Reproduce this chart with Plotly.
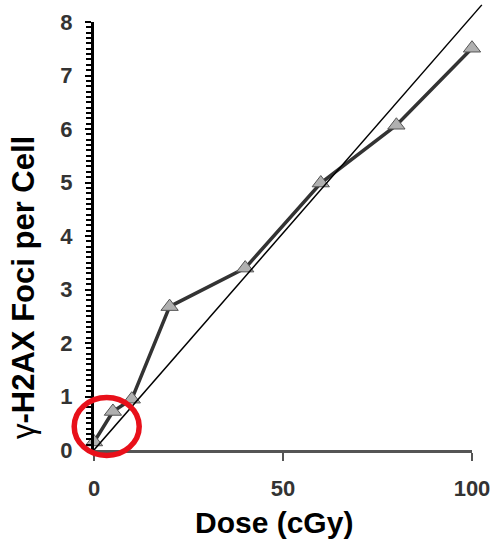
import plotly.graph_objects as go

# ---- data ----
dose = [0, 5, 10, 20, 40, 60, 80, 100]
foci = [0.15, 0.72, 0.95, 2.68, 3.40, 4.99, 6.07, 7.51]
fit_dose = [0, 102.6]
fit_foci = [0, 8.32]
x_tick_vals = [0, 50, 100]
y_tick_vals = [0, 1, 2, 3, 4, 5, 6, 7, 8]
x_title = "Dose (cGy)"
y_title = '<span style="font-weight:normal">γ</span>-H2AX Foci per Cell'

# ---- layout geometry (pixels) ----
W, H = 500, 542
ML, MR, MT, MB = 94, 10, 4, 92
plot_w = W - ML - MR
plot_h = H - MT - MB
main_w, main_h = 378, 428
xd = main_w / plot_w
yd = main_h / plot_h
x_max, y_max = 100, 8

def px_x(p):
    return (p - ML) / plot_w

def px_y(p):
    return (H - MB - p) / plot_h

FONT = "Arial, Liberation Sans, sans-serif"

fig = go.Figure()

fig.add_trace(go.Scatter(
    x=dose, y=foci, mode="lines+markers",
    line=dict(color="#333333", width=3.5),
    marker=dict(symbol="triangle-up", size=15, color="#b0b0b0",
                line=dict(color="#555555", width=1)),
    cliponaxis=False, xaxis="x", yaxis="y", showlegend=False,
))

fig.add_trace(go.Scatter(
    x=fit_dose, y=fit_foci, mode="lines",
    line=dict(color="black", width=1.5),
    xaxis="x2", yaxis="y2", showlegend=False,
))

fig.update_layout(
    width=W, height=H,
    margin=dict(l=ML, r=MR, t=MT, b=MB, pad=0, autoexpand=False),
    paper_bgcolor="white", plot_bgcolor="rgba(0,0,0,0)",
    font=dict(family=FONT, color="#222222"),
    xaxis=dict(
        domain=[0, xd], range=[0, x_max], anchor="y", automargin=False,
        showline=True, linecolor="#555555", linewidth=3,
        ticks="outside", tickvals=x_tick_vals, ticklen=8, tickwidth=2,
        tickcolor="#555555", showgrid=False, zeroline=False,
        tickfont=dict(size=22, weight="bold", color="#333333"),
        ticklabelstandoff=9,
    ),
    yaxis=dict(
        domain=[0, yd], range=[0, y_max], anchor="x", automargin=False,
        showline=True, linecolor="black", linewidth=3,
        ticks="outside", tickvals=y_tick_vals, ticklen=6, tickwidth=2,
        tickcolor="black", showgrid=False, zeroline=False,
        minor=dict(dtick=0.1, ticks="outside", ticklen=5, tickwidth=1.5,
                   tickcolor="black", showgrid=False),
        tickfont=dict(size=22, weight="bold", color="#333333"),
        ticklabelstandoff=8,
    ),
    xaxis2=dict(domain=[0, 1], range=[0, x_max / xd], anchor="y2",
                automargin=False, visible=False, showgrid=False, zeroline=False),
    yaxis2=dict(domain=[0, 1], range=[0, y_max / yd], anchor="x2",
                automargin=False, visible=False, showgrid=False, zeroline=False),
    annotations=[
        dict(text=x_title, xref="paper", yref="paper",
             x=px_x(274), y=px_y(522), showarrow=False,
             xanchor="center", yanchor="middle",
             font=dict(size=30, weight="bold", color="black", family=FONT)),
        dict(text=y_title, xref="paper", yref="paper",
             x=px_x(23), y=px_y(288), showarrow=False, textangle=-90,
             xanchor="center", yanchor="middle",
             font=dict(size=31, weight="bold", color="black", family=FONT)),
    ],
    shapes=[
        dict(type="circle", xref="paper", yref="paper",
             x0=px_x(74.2), x1=px_x(139.2), y0=px_y(455.5), y1=px_y(397.5),
             line=dict(color="#e8101a", width=5.5), layer="above"),
    ],
)

fig.write_html(
    "out.html",
    config={"responsive": False, "displayModeBar": False},
    post_script="document.body.style.margin='0px';document.body.style.padding='0px';document.body.style.overflow='hidden';",
)
